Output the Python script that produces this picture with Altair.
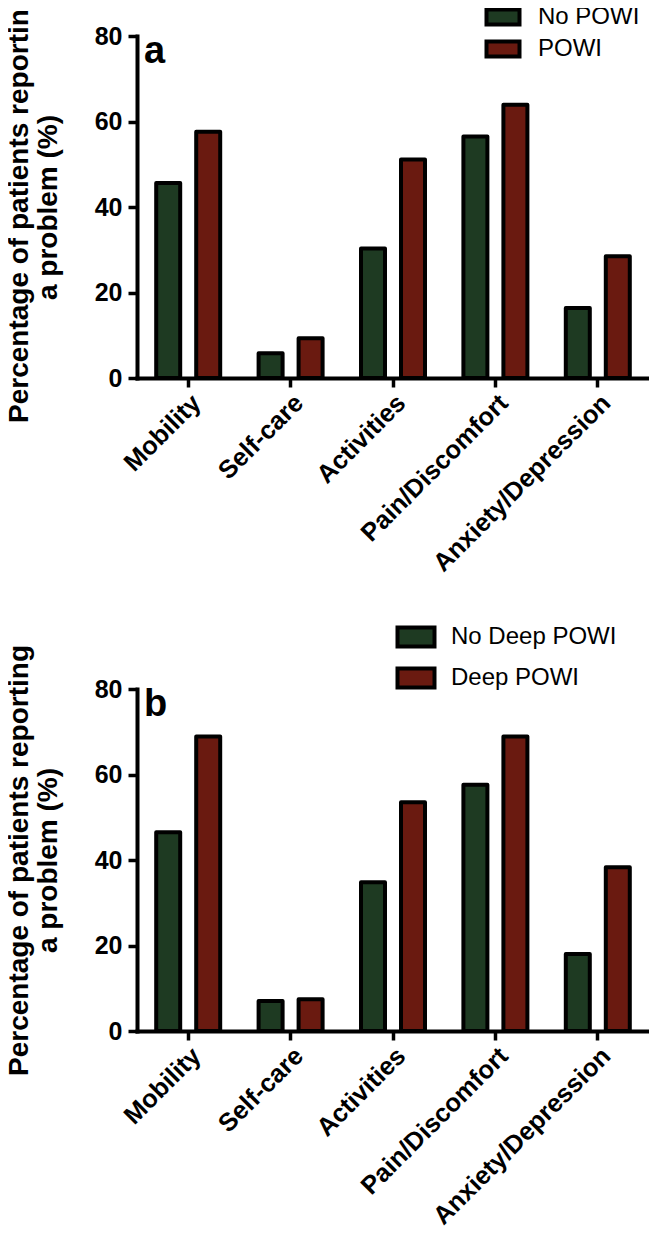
import altair as alt
import pandas as pd

categories = ["Mobility", "Self-care", "Activities", "Pain/Discomfort", "Anxiety/Depression"]

a_groups = ["No POWI", "POWI"]
a_no = [45.6, 5.8, 30.3, 56.5, 16.4]
a_yes = [57.6, 9.3, 51.1, 63.9, 28.5]

b_groups = ["No Deep POWI", "Deep POWI"]
b_no = [46.5, 7.0, 34.8, 57.6, 18.0]
b_yes = [68.9, 7.4, 53.5, 68.9, 38.3]

y_ticks = [0, 20, 40, 60, 80]
colors = ["#1e3a22", "#6a1a10"]
y_title = ["Percentage of patients reporting", "a problem (%)"]

FONT = "Liberation Sans"


def panel(groups, no_vals, yes_vals, letter, lx, ly, sym_path, sym_size, row_pad):
    df = pd.DataFrame({
        "category": categories * 2,
        "group": [groups[0]] * len(categories) + [groups[1]] * len(categories),
        "value": no_vals + yes_vals,
    })
    bars = alt.Chart(df).mark_bar(stroke="black", strokeWidth=4, strokeJoin="round").encode(
        x=alt.X("category:N", sort=categories,
                scale=alt.Scale(paddingInner=0.375, paddingOuter=0.1875),
                axis=alt.Axis(title=None, labelAngle=-45, labelFontSize=25.5,
                              labelFont=FONT, labelFontWeight="bold", labelColor="black",
                              labelPadding=3, tickSize=9, labelLimit=0)),
        xOffset=alt.XOffset("group:N", sort=groups,
                            scale=alt.Scale(paddingInner=0.4, paddingOuter=0)),
        y=alt.Y("value:Q", scale=alt.Scale(domain=[0, 80], nice=False),
                axis=alt.Axis(values=y_ticks, title=y_title, grid=False,
                              labelFontSize=25, labelFont=FONT, labelFontWeight="bold",
                              labelColor="black", labelPadding=6, tickSize=9,
                              titleFont=FONT, titleFontSize=28, titleFontWeight="bold",
                              titleColor="black", titleLineHeight=29, titlePadding=32)),
        fill=alt.Fill("group:N", sort=groups,
                      scale=alt.Scale(domain=groups, range=colors),
                      legend=alt.Legend(title=None, orient="none", legendX=lx, legendY=ly,
                                        symbolType=sym_path, symbolSize=sym_size,
                                        symbolStrokeColor="black", symbolStrokeWidth=4,
                                        symbolOpacity=1, labelLimit=0,
                                        labelFont=FONT, labelFontSize=24, labelColor="black",
                                        labelOffset=23, rowPadding=row_pad)),
    )
    lab = alt.Chart(pd.DataFrame({"t": [letter]})).mark_text(
        font=FONT, fontSize=38, fontWeight="bold", align="left", baseline="alphabetic",
        color="black"
    ).encode(text="t:N", x=alt.value(7), y=alt.value(27))
    return alt.layer(bars, lab).properties(width=512, height=342)


pa = panel(a_groups, a_no, a_yes, "a", 354, -31, "M-1.65,-0.75H1.65V0.75H-1.65Z", 400, 0)
pb = panel(b_groups, b_no, b_yes, "b", 267, -64, "M-1.85,-0.95H1.85V0.95H-1.85Z", 400, 5)

chart = alt.vconcat(pa, pb, spacing=311, bounds="flush").resolve_scale(
    fill="independent", xOffset="independent"
).resolve_legend(fill="independent").properties(
    padding={"left": -3, "top": -17, "right": 0, "bottom": 0}
).configure_view(stroke=None).configure_axis(
    domainColor="black", domainWidth=4, tickColor="black", tickWidth=3.5,
    domainCap="square"
)

chart.save("out.html", embed_options={"renderer": "svg", "actions": False})
